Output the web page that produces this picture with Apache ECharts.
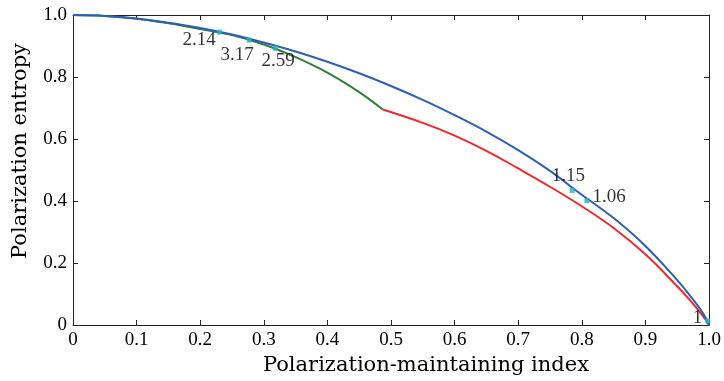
<!DOCTYPE html>
<html>
<head>
<meta charset="utf-8">
<script src="https://cdn.jsdelivr.net/npm/echarts@6/dist/echarts.min.js"></script>
<style>
  html, body { margin: 0; padding: 0; background: #fff; }
  #main { width: 724px; height: 381px; }
</style>
</head>
<body>
<div id="main"></div>
<script>
// valores
const blueX = [0, 0.05, 0.1, 0.15, 0.2, 0.25, 0.3, 0.35, 0.4, 0.45, 0.5, 0.55, 0.6, 0.65, 0.7, 0.75, 0.8, 0.85, 0.9, 0.95, 0.97, 0.99, 1.0];
const blueY = [1.0, 0.997, 0.989, 0.975, 0.958, 0.937, 0.911, 0.882, 0.849, 0.812, 0.771, 0.726, 0.677, 0.624, 0.564, 0.497, 0.420, 0.345, 0.255, 0.145, 0.095, 0.04, 0.0];

const greenX = [0, 0.05, 0.1, 0.15, 0.2, 0.25, 0.3, 0.35, 0.4, 0.45, 0.487];
const greenY = [1.0, 0.997, 0.988, 0.973, 0.955, 0.935, 0.905, 0.864, 0.814, 0.751, 0.695];

const redX = [0.487, 0.55, 0.6, 0.65, 0.7, 0.75, 0.8, 0.85, 0.9, 0.95, 0.97, 0.99, 1.0];
const redY = [0.695, 0.652, 0.611, 0.562, 0.505, 0.446, 0.383, 0.313, 0.228, 0.125, 0.08, 0.03, 0.0];

const pointX = [0.230, 0.277, 0.318, 0.785, 0.808, 0.998];
const pointY = [0.945, 0.919, 0.893, 0.434, 0.401, 0.013];
const pointLabels = ['2.14', '3.17', '2.59', '1.15', '1.06', '1'];

// posicion de cada etiqueta respecto al punto
const labelPos = [
  { position: 'left', offset: [4, 8] },
  { position: 'bottom', offset: [-12, -2] },
  { position: 'bottom', offset: [3, -4] },
  { position: 'top', offset: [-4, 3] },
  { position: 'right', offset: [-2, -4] },
  { position: 'left', offset: [2, -3] }
];

const titleFont = 'DejaVu Serif';
const numFont = 'Liberation Serif';
const axisColor = '#222';
const textColor = '#000';

const zip = (xs, ys) => xs.map((x, i) => [x, ys[i]]);
const tickFmt = v => (v === 0 ? '0' : v.toFixed(1));

const chart = echarts.init(document.getElementById('main'));

const baseAxis = {
  type: 'value',
  min: 0,
  max: 1,
  interval: 0.1,
  axisLine: { show: true, onZero: false, lineStyle: { color: axisColor, width: 1 } },
  axisTick: { show: true, inside: true, length: 5, lineStyle: { color: axisColor } },
  splitLine: { show: false }
};

const option = {
  animation: false,
  backgroundColor: '#fff',
  grid: { left: 73, right: 15, top: 15, bottom: 55 },
  xAxis: [
    {
      ...baseAxis,
      position: 'bottom',
      name: 'Polarization-maintaining index',
      nameLocation: 'middle',
      nameGap: 30,
      // el titulo esta corrido a la derecha en la figura original
      nameTextStyle: { fontFamily: titleFont, fontSize: 21, color: textColor, padding: [0, 0, 0, 70] },
      axisLabel: { fontFamily: numFont, fontSize: 19, color: textColor, margin: 6, formatter: tickFmt }
    },
    {
      ...baseAxis,
      position: 'top',
      axisLabel: { show: false }
    }
  ],
  yAxis: [
    {
      ...baseAxis,
      interval: 0.2,
      position: 'left',
      name: 'Polarization entropy',
      nameLocation: 'middle',
      nameGap: 42,
      // un poco mas arriba que el centro
      nameTextStyle: { fontFamily: titleFont, fontSize: 21, color: textColor, padding: [0, 0, 0, 38] },
      axisLabel: { fontFamily: numFont, fontSize: 19, color: textColor, margin: 6, formatter: tickFmt }
    },
    {
      ...baseAxis,
      interval: 0.2,
      position: 'right',
      axisLabel: { show: false }
    }
  ],
  series: [
    {
      type: 'line',
      data: zip(blueX, blueY),
      smooth: 0.4,
      showSymbol: false,
      lineStyle: { color: '#2f5fb3', width: 2 },
      z: 3
    },
    {
      type: 'line',
      data: zip(greenX, greenY),
      smooth: 0.4,
      showSymbol: false,
      lineStyle: { color: '#2f7f3a', width: 2 },
      z: 2
    },
    {
      type: 'line',
      data: zip(redX, redY),
      smooth: 0.4,
      showSymbol: false,
      lineStyle: { color: '#ee2a2a', width: 2 },
      z: 2
    },
    {
      type: 'scatter',
      symbol: 'rect',
      symbolSize: 5,
      itemStyle: { color: '#22b5bd' },
      z: 5,
      data: pointX.map((x, i) => ({
        value: [x, pointY[i]],
        label: {
          show: true,
          formatter: pointLabels[i],
          position: labelPos[i].position,
          offset: labelPos[i].offset,
          fontFamily: numFont,
          fontSize: 19,
          color: textColor
        }
      }))
    }
  ]
};

chart.setOption(option);
</script>
</body>
</html>
